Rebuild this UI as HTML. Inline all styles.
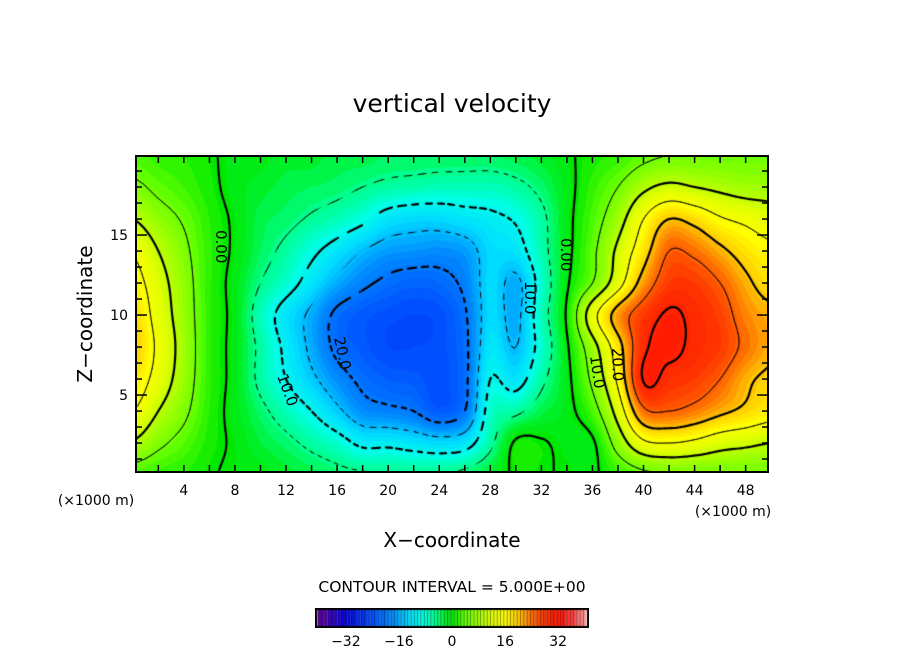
<!DOCTYPE html>
<html><head><meta charset="utf-8">
<style>
html,body{margin:0;padding:0;background:#fff;}
#root{position:relative;width:904px;height:654px;font-family:"DejaVu Sans","Liberation Sans",sans-serif;overflow:hidden;}
canvas{position:absolute;}
svg{position:absolute;left:0;top:0;}
</style></head>
<body>
<div id="root">
<canvas id="field" width="632" height="316" style="left:136px;top:156px"></canvas>
<canvas id="cbar" width="274" height="20" style="left:315px;top:608px"></canvas>
<svg id="ov" width="904" height="654" font-family="DejaVu Sans, Liberation Sans, sans-serif">
  <text x="452" y="112" font-size="25" text-anchor="middle">vertical velocity</text>
  <text x="0" y="0" font-size="20" text-anchor="middle" transform="translate(92,314) rotate(-90)">Z−coordinate</text>
  <text x="452" y="547" font-size="20" text-anchor="middle">X−coordinate</text>
  <text x="96" y="505" font-size="14" text-anchor="middle">(×1000 m)</text>
  <text x="733" y="516" font-size="14" text-anchor="middle">(×1000 m)</text>
  <text x="452" y="592" font-size="15.5" text-anchor="middle">CONTOUR INTERVAL = 5.000E+00</text>
  <g font-size="15">
    <text transform="translate(216,230) rotate(90)">0.00</text>
    <text transform="translate(561,238) rotate(90)">0.00</text>
    <text transform="translate(277,376) rotate(70)">10.0</text>
    <text transform="translate(525,281) rotate(90)">10.0</text>
    <text transform="translate(334,338) rotate(78)">20.0</text>
    <text transform="translate(590,356) rotate(82)">10.0</text>
    <text transform="translate(612,348) rotate(88)">20.0</text>
  </g>
  <g id="axes"></g>
</svg>
</div>
<script>
// ---- data (w) ----
const xKm = [0,2,4,6,8,10,12,14,16,18,20,22,24,26,28,30,32,34,36,38,40,42,44,46,48,50];
const zKm = [20,18,16,14,12,10,8,6,4,2,0];
const w_z20 = [3,2,1.5,0.5,-1,-1,-2,-2,-3,-3,-3.5,-3.5,-3.5,-3.5,-3.5,-3,-2,-0.5,1,2,4,5,5,5,5,5];
const w_z18 = [6,4,2.5,0.8,-1,-2,-3,-3.5,-4,-5,-6,-6.5,-7,-7,-7,-6,-4,-1,2,5,9,11,10,9,8,8];
const w_z16 = [10,7,4.5,1.5,-0.5,-3,-4,-5.5,-7,-9,-12,-13,-13,-12,-11,-9.5,-6,-1,3,8,15,20,18.5,15.5,14,12.5];
const w_z14 = [14.5,10,6,1.8,-0.5,-3.5,-6,-9,-12,-15,-17,-17.5,-18,-17,-13,-12,-6.5,-1,4,11,18,25,24,21,18,16];
const w_z12 = [17,12,7,1.8,-1,-5,-8,-12,-16,-19,-21,-22,-21.5,-19,-13,-16,-8,-0.5,5,13,22,27.5,27.5,25,21,18];
const w_z10 = [19,13,7.5,1.8,-1,-7,-12,-16,-21,-23,-24,-24.5,-24,-20.5,-13,-16,-7,0.5,13,22,27.5,30.5,29,27,23,21];
const w_z8 = [20,14,8,1.8,-1,-6,-11,-16,-21,-23,-24.5,-24.5,-24,-21,-12,-15,-8,-0.5,8,18,29,31,29,27.5,24,21];
const w_z6 = [18,13,7.5,1.8,-1,-6,-10,-14,-18,-21,-22.5,-23,-24,-21,-10,-12,-6,-1,6,16,30.3,28.5,27.5,25,21,19];
const w_z4 = [15,10,6,1.5,-1,-4,-7,-10,-14,-18,-19,-20,-23,-20,-8,-6,-3,-1,3,12,24,25,23.5,21,19,17];
const w_z2 = [9.5,6,3.5,1,-0.5,-2.5,-4,-6,-8,-11,-11,-12,-13,-12,-6,0.5,0.3,-0.8,-0.5,7,14,15,14,12,11,10];
const w_z0 = [3,2,1.5,0.3,-0.5,-1,-2,-3,-4,-4.5,-5,-5,-5,-4,-2,0.5,0.3,-0.3,-0.5,2,4,5,5,5,5,5];
const wRows = [w_z20,w_z18,w_z16,w_z14,w_z12,w_z10,w_z8,w_z6,w_z4,w_z2,w_z0];
const cbTicks = [-32,-16,0,16,32];
const xTickLabels = [4,8,12,16,20,24,28,32,36,40,44,48];
const zTickLabels = [5,10,15];
const levels = [-35,-30,-25,-20,-15,-10,-5,0,5,10,15,20,25,30,35];

// ---- scales ----
const PL=136, PT=156, PW=632, PH=316;
const X0=0.25, X1=49.75, Z0=0.19, Z1=19.94;
const xPix = x => PL + (x-X0)/(X1-X0)*PW;
const zPix = z => PT + (Z1-z)/(Z1-Z0)*PH;

function cr(p0,p1,p2,p3,t){return p1+0.5*t*(p2-p0+t*(2*p0-5*p1+4*p2-p3+t*(3*(p1-p2)+p3-p0)));}
const nC=xKm.length, nR=zKm.length;
function g(r,c){r=Math.max(0,Math.min(nR-1,r));c=Math.max(0,Math.min(nC-1,c));return wRows[r][c];}
function field(x,z){
  const gx=(x-xKm[0])/(xKm[1]-xKm[0]);
  const gz=(zKm[0]-z)/(zKm[0]-zKm[1]);
  const c=Math.floor(gx), r=Math.floor(gz), tx=gx-c, tz=gz-r;
  const v=[];
  for(let k=-1;k<=2;k++) v.push(cr(g(r+k,c-1),g(r+k,c),g(r+k,c+1),g(r+k,c+2),tx));
  return cr(v[0],v[1],v[2],v[3],tz);
}
const stops=[[-40,[96,0,160]],[-32,[0,0,224]],[-24,[0,80,255]],[-18,[0,140,255]],[-13,[0,220,255]],[-9,[0,255,230]],[-5,[0,255,140]],[-2,[0,240,40]],[0,[0,232,0]],[4,[96,255,0]],[8,[160,255,0]],[12,[224,255,0]],[16,[255,255,0]],[20,[255,200,0]],[24,[255,110,0]],[28,[255,50,0]],[32,[255,20,0]],[36,[255,60,60]],[40,[255,153,153]]];
function col(v){
  v=Math.round(v);
  if(v<=stops[0][0])return stops[0][1];
  for(let i=1;i<stops.length;i++){if(v<=stops[i][0]){const a=stops[i-1],b=stops[i],t=(v-a[0])/(b[0]-a[0]);return a[1].map((q,k)=>Math.round(q+(b[1][k]-q)*t));}}
  return stops[stops.length-1][1];
}
// ---- fill ----
const cv=document.getElementById('field'),ctx=cv.getContext('2d');
const img=ctx.createImageData(PW,PH);
for(let j=0;j<PH;j++){const z=Z1-(j+0.5)/PH*(Z1-Z0);
  for(let i=0;i<PW;i++){const x=X0+(i+0.5)/PW*(X1-X0);
    const c=col(field(x,z));const o=(j*PW+i)*4;img.data[o]=c[0];img.data[o+1]=c[1];img.data[o+2]=c[2];img.data[o+3]=255;}}
ctx.putImageData(img,0,0);
// ---- contours (marching squares) ----
const S=2,NX=Math.ceil(PW/S)+1,NY=Math.ceil(PH/S)+1;
const F=[];for(let j=0;j<NY;j++){F.push([]);const z=Z1-(j*S)/PH*(Z1-Z0);for(let i=0;i<NX;i++){F[j].push(field(X0+(i*S)/PW*(X1-X0),z));}}
ctx.strokeStyle='#000';ctx.lineCap='round';
levels.forEach(L=>{
  ctx.lineWidth=(L%10===0)?2.2:0.9;
  ctx.beginPath();
  for(let j=0;j<NY-1;j++)for(let i=0;i<NX-1;i++){
    if(L<0 && Math.floor((i+j)/3)%2===1)continue;
    const a=F[j][i],b=F[j][i+1],c=F[j+1][i+1],d=F[j+1][i];
    const p=[];
    const e=(v1,v2,x1,y1,x2,y2)=>{if((v1<L)!==(v2<L)){const t=(L-v1)/(v2-v1);p.push([x1+(x2-x1)*t,y1+(y2-y1)*t]);}};
    const x=i*S,y=j*S;
    e(a,b,x,y,x+S,y);e(b,c,x+S,y,x+S,y+S);e(d,c,x,y+S,x+S,y+S);e(a,d,x,y,x,y+S);
    for(let k=0;k+1<p.length;k+=2){ctx.moveTo(p[k][0],p[k][1]);ctx.lineTo(p[k+1][0],p[k+1][1]);}
  }
  ctx.stroke();
});
// ---- colorbar ----
const cb=document.getElementById('cbar'),cc=cb.getContext('2d');
const CBL=-41,CBR=41,cbW=272;
const cbX=v=>1+(v-CBL)/(CBR-CBL)*cbW;
for(let v=-40;v<=40;v++){const c=col(v);cc.fillStyle=`rgb(${c[0]},${c[1]},${c[2]})`;cc.fillRect(cbX(v-0.5),1,cbX(v+0.5)-cbX(v-0.5),18);
  cc.fillStyle='rgba(0,0,0,0.55)';cc.fillRect(cbX(v-0.5),1,0.8,18);}
cc.strokeStyle='#000';cc.lineWidth=2;cc.strokeRect(1,1,272,18);
// ---- axes ----
const NS='http://www.w3.org/2000/svg',ax=document.getElementById('axes');
function mk(tag,attrs){const el=document.createElementNS(NS,tag);for(const k in attrs)el.setAttribute(k,attrs[k]);ax.appendChild(el);return el;}
let el=mk('rect',{x:PL,y:PT,width:PW,height:PH,fill:'none',stroke:'#000','stroke-width':2});


for(let x=2;x<=48;x+=2){const px=xPix(x);
  el=mk('line',{x1:px,x2:px,y1:PT+PH,y2:PT+PH-7,stroke:'#000','stroke-width':1.5});
  
  
  el=mk('line',{x1:px,x2:px,y1:PT,y2:PT+7,stroke:'#000','stroke-width':1.5});
  
  }
xTickLabels.forEach(v=>{el=mk('text',{x:xPix(v),y:495,'font-size':14,'text-anchor':'middle'});el.textContent=v;
  
  });
for(let z=1;z<=19;z++){const py=zPix(z),L=(z%5===0)?11:6;
  el=mk('line',{x1:PL,x2:PL+L,y1:py,y2:py,stroke:'#000','stroke-width':1.5});
  
  
  el=mk('line',{x1:PL+PW,x2:PL+PW-L,y1:py,y2:py,stroke:'#000','stroke-width':1.5});
  
  }
zTickLabels.forEach(v=>{el=mk('text',{x:128,y:zPix(v)+5,'font-size':14,'text-anchor':'end'});el.textContent=v;
  
  });
cbTicks.forEach(v=>{el=mk('text',{x:315+cbX(v),y:646,'font-size':14,'text-anchor':'middle'});el.textContent=(v<0?'−':'')+Math.abs(v);
  
  });
</script>
</body></html>
